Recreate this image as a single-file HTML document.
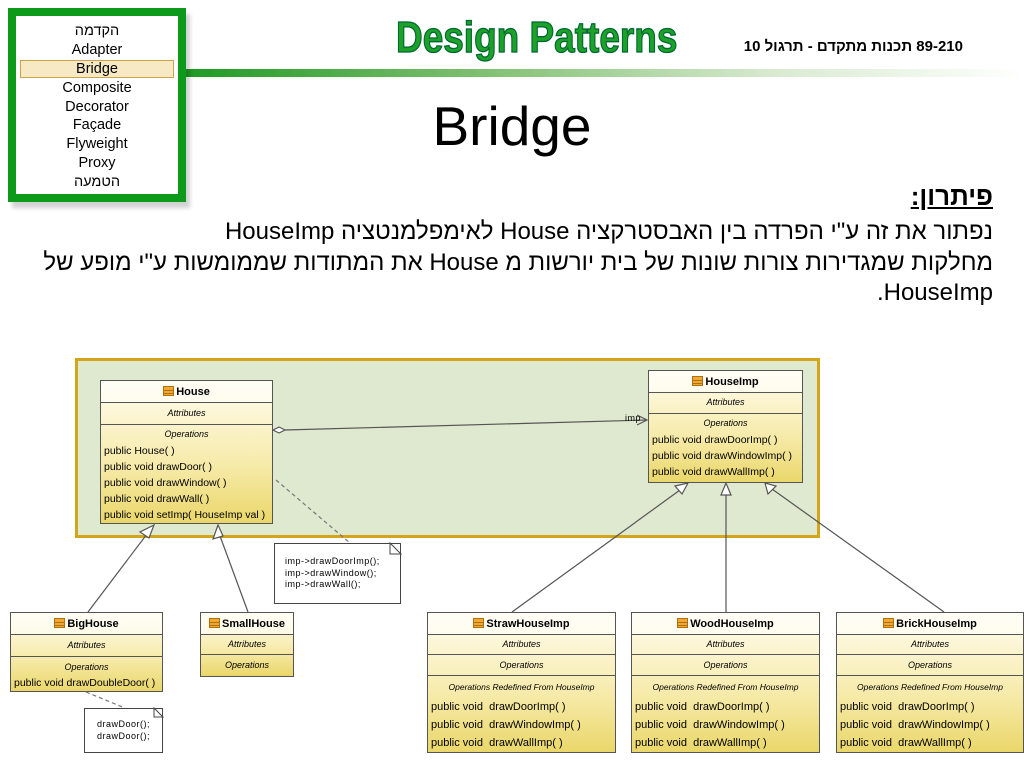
<!DOCTYPE html>
<html><head><meta charset="utf-8">
<style>
*{margin:0;padding:0;box-sizing:border-box}
body{width:1024px;height:768px;background:#fff;position:relative;overflow:hidden;font-family:"Liberation Sans",sans-serif;color:#000}
.abs{position:absolute}
.nav{left:8px;top:8px;width:178px;height:194px;border:8px solid #0d9a1a;background:#fff;box-shadow:4px 6px 4px rgba(0,0,0,.18)}
.nav div{position:absolute;left:0;width:162px;text-align:center;font-size:14.5px;line-height:18px}
.heb{font-family:"Liberation Sans","DejaVu Sans",sans-serif;direction:rtl;text-align:right;white-space:nowrap}
.cls{position:absolute;border:1px solid #555;background:linear-gradient(#fffdf0,#f6eaa8 60%,#ead76a);font-size:10.5px}
.cls .h{height:22px;border-bottom:1px solid #555;text-align:center;font-weight:bold;font-size:11px;line-height:22px;background:rgba(255,255,250,.6)}
.cls .s{border-bottom:1px solid #555;text-align:center;font-style:italic;font-size:9px;line-height:19px}
.cls .o{text-align:center;font-style:italic;font-size:9px;line-height:18px}
.cls .m{padding-left:3px;line-height:16px;white-space:nowrap}
.ic{display:inline-block;width:11px;height:10px;background:#f0a830;border:1px solid #b07010;vertical-align:-1px;margin-right:2px;background-image:linear-gradient(#f0a830 3px,#b07010 3px,#b07010 4px,#f0a830 4px,#f0a830 6px,#b07010 6px,#b07010 7px,#f0a830 7px)}
.note{position:absolute;background:#fff;border:1px solid #444;font-size:9px;letter-spacing:.5px;line-height:11.5px}
</style></head><body>
<div class="abs" style="left:186px;top:69px;width:838px;height:8px;background:linear-gradient(90deg,#1e9a24,#7fbf70 35%,#d8ead0 70%,#fff)"></div>
<div class="abs nav">
<div class="heb" style="top:6px;text-align:center">הקדמה</div>
<div style="top:25px">Adapter</div>
<div style="top:44px;left:4px;width:154px;background:#f6e9c4;border:1px solid #c9a44a;line-height:16px">Bridge</div>
<div style="top:63px">Composite</div>
<div style="top:82px">Decorator</div>
<div style="top:100px">Façade</div>
<div style="top:119px">Flyweight</div>
<div style="top:138px">Proxy</div>
<div class="heb" style="top:157px;text-align:center">הטמעה</div>
</div>
<div class="abs" style="left:396px;top:12px;font-weight:bold;font-size:44px;color:#1ca228;-webkit-text-stroke:1.3px #063;line-height:52px;white-space:nowrap;transform:scaleX(0.84);transform-origin:left top">Design Patterns</div>
<div class="abs heb" style="right:61px;top:38px;font-size:15px;font-weight:bold;line-height:18px">89-210 תכנות מתקדם - תרגול 10</div>
<div class="abs" style="left:0;width:1024px;top:94px;text-align:center;font-size:55px;line-height:64px">Bridge</div>
<div class="abs heb" style="right:31px;top:181px;font-size:26px;font-weight:bold;text-decoration:underline;line-height:30px">פיתרון:</div>
<div class="abs heb" style="right:31px;top:218px;font-size:24px;line-height:28px">נפתור את זה ע"י הפרדה בין האבסטרקציה House לאימפלמנטציה HouseImp</div>
<div class="abs heb" style="right:31px;top:249px;font-size:24px;line-height:28px">מחלקות שמגדירות צורות שונות של בית יורשות מ House את המתודות שממומשות ע"י מופע של</div>
<div class="abs heb" style="right:31px;top:279px;font-size:24px;line-height:28px">HouseImp.</div>

<div class="abs" style="left:75px;top:358px;width:745px;height:180px;background:#dfe9cf;border:3px solid #d3a51a"></div>

<div class="cls" style="left:100px;top:380px;width:173px;height:144px">
<div class="h"><span class="ic"></span>House</div>
<div class="s" style="height:22px;line-height:20px">Attributes</div>
<div class="o">Operations</div>
<div class="m">public House( )</div><div class="m">public void drawDoor( )</div><div class="m">public void drawWindow( )</div><div class="m">public void drawWall( )</div><div class="m">public void setImp( HouseImp val )</div>
</div>
<div class="cls" style="left:648px;top:370px;width:155px;height:113px">
<div class="h"><span class="ic"></span>HouseImp</div>
<div class="s" style="height:21px">Attributes</div>
<div class="o">Operations</div>
<div class="m">public void drawDoorImp( )</div><div class="m">public void drawWindowImp( )</div><div class="m">public void drawWallImp( )</div>
</div>
<div class="note" style="left:274px;top:543px;width:127px;height:61px;padding:12px 0 0 10px">imp-&gt;drawDoorImp();<br>imp-&gt;drawWindow();<br>imp-&gt;drawWall();</div>
<div class="note" style="left:84px;top:708px;width:79px;height:45px;padding:10px 0 0 12px">drawDoor();<br>drawDoor();</div>

<div class="cls" style="left:10px;top:612px;width:153px;height:80px">
<div class="h"><span class="ic"></span>BigHouse</div>
<div class="s" style="height:22px;line-height:21px">Attributes</div>
<div class="o" style="line-height:20px">Operations</div>
<div class="m" style="font-size:10.5px;line-height:13px">public void drawDoubleDoor( )</div>
</div>
<div class="cls" style="left:200px;top:612px;width:94px;height:65px">
<div class="h"><span class="ic"></span>SmallHouse</div>
<div class="s">Attributes</div>
<div class="o" style="line-height:20px">Operations</div>
</div>

<div class="cls" style="left:427px;top:612px;width:189px;height:141px">
<div class="h"><span class="ic"></span>StrawHouseImp</div>
<div class="s">Attributes</div>
<div class="s" style="line-height:20px">Operations</div>
<div class="o" style="font-size:8.5px;line-height:22px">Operations Redefined From HouseImp</div>
<div class="m" style="font-size:11px;line-height:18px">public void&nbsp; drawDoorImp( )</div><div class="m" style="font-size:11px;line-height:18px">public void&nbsp; drawWindowImp( )</div><div class="m" style="font-size:11px;line-height:18px">public void&nbsp; drawWallImp( )</div>
</div>
<div class="cls" style="left:631px;top:612px;width:189px;height:141px">
<div class="h"><span class="ic"></span>WoodHouseImp</div>
<div class="s">Attributes</div>
<div class="s" style="line-height:20px">Operations</div>
<div class="o" style="font-size:8.5px;line-height:22px">Operations Redefined From HouseImp</div>
<div class="m" style="font-size:11px;line-height:18px">public void&nbsp; drawDoorImp( )</div><div class="m" style="font-size:11px;line-height:18px">public void&nbsp; drawWindowImp( )</div><div class="m" style="font-size:11px;line-height:18px">public void&nbsp; drawWallImp( )</div>
</div>
<div class="cls" style="left:836px;top:612px;width:188px;height:141px">
<div class="h"><span class="ic"></span>BrickHouseImp</div>
<div class="s">Attributes</div>
<div class="s" style="line-height:20px">Operations</div>
<div class="o" style="font-size:8.5px;line-height:22px">Operations Redefined From HouseImp</div>
<div class="m" style="font-size:11px;line-height:18px">public void&nbsp; drawDoorImp( )</div><div class="m" style="font-size:11px;line-height:18px">public void&nbsp; drawWindowImp( )</div><div class="m" style="font-size:11px;line-height:18px">public void&nbsp; drawWallImp( )</div>
</div>

<svg class="abs" style="left:0;top:0" width="1024" height="768">
<g stroke="#555" fill="none" stroke-width="1.2">
<line x1="285" y1="430" x2="647" y2="420"/>
<polyline points="637,415 647,420 637,425"/>
<polygon points="273,430 279,427 285,430 279,433" fill="#fff"/>
<line x1="88" y1="612" x2="147" y2="534"/>
<line x1="248" y1="612" x2="220" y2="536"/>
<line x1="512" y1="612" x2="680" y2="490"/>
<line x1="726" y1="612" x2="726" y2="495"/>
<line x1="944" y1="612" x2="772" y2="489"/>
</g>
<g stroke="#555" fill="#fff" stroke-width="1.2">
<polygon points="154,525 140,532 149,538"/>
<polygon points="218,525 213,539 223,536"/>
<polygon points="688,483 675,486 682,494"/>
<polygon points="726,483 721,495 731,495"/>
<polygon points="765,483 768,494 776,486"/>
</g>
<g stroke="#777" stroke-dasharray="4,3" stroke-width="1.2">
<line x1="276" y1="480" x2="350" y2="543"/>
<line x1="86" y1="692" x2="125" y2="708"/>
</g>
<g stroke="#444" fill="#fff">
<polygon points="390,543 401,554 390,554"/>
<polygon points="154,708 163,717 154,717"/>
</g>
<text x="625" y="421" font-size="9" font-family="Liberation Sans" letter-spacing=".5">imp</text>
</svg>
</body></html>
